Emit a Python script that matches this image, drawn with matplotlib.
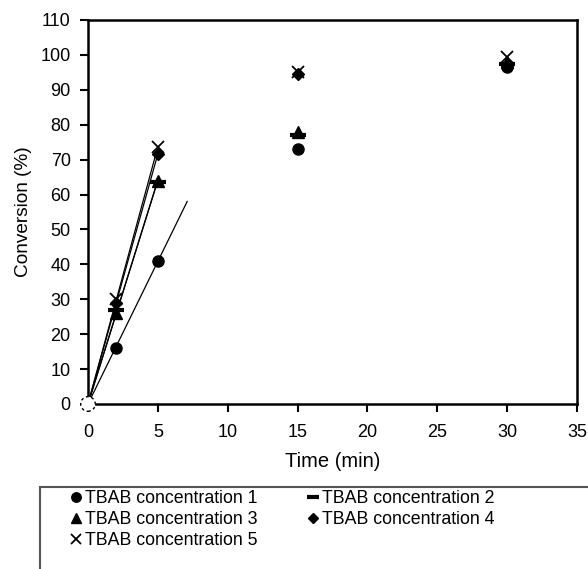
import numpy as np
import matplotlib
matplotlib.use("Agg")
import matplotlib.pyplot as plt
from matplotlib.patches import Rectangle
from matplotlib.lines import Line2D

plt.rcParams['font.family'] = ['Liberation Sans', 'DejaVu Sans']

time = [0, 2, 5, 15, 30]
conc1 = [0, 16, 41, 73, 96.5]
conc2 = [0, 27, 63.5, 77, 97.5]
conc3 = [0, 26, 64, 78, 98]
conc4 = [0, 29, 71.5, 94.5, 97]
conc5 = [0, 30, 73.5, 95, 99.5]
labels = ["TBAB concentration 1", "TBAB concentration 2", "TBAB concentration 3",
          "TBAB concentration 4", "TBAB concentration 5"]
trend_end = [7.1, 5.0, 5.0, 4.9, 4.9]

series = [conc1, conc2, conc3, conc4, conc5]
markers = ['o', '_', '^', 'D', 'x']
msizes = [8, 11, 8, 6.5, 8]

fig = plt.figure(figsize=(5.88, 5.69), dpi=100)
ax = fig.add_axes([88/588, 1-404/569, (577-88)/588, (404-20)/569])

t = np.array(time, dtype=float)
for ys, xe in zip(series, trend_end):
    y = np.array(ys, dtype=float)
    slope = np.sum(t[:3]*y[:3]) / np.sum(t[:3]**2)
    xx = np.array([0, xe])
    ax.plot(xx, slope*xx, color='black', lw=0.9, zorder=2)

handles = []
for ys, m, ms, lab in zip(series, markers, msizes, labels):
    kw = dict(color='black', linestyle='none', marker=m, markersize=ms, zorder=3)
    if m == '_':
        kw['markeredgewidth'] = 3
    elif m == 'x':
        kw['markeredgewidth'] = 1.3
    ax.plot(time[1:], ys[1:], **kw)
    handles.append(Line2D([], [], **{**kw, 'markersize': ms*0.85}))

# origin marker (hollow dashed circle)
ax.scatter([time[0]], [conc1[0]], s=110, facecolor='white', edgecolor='black',
           linewidth=1.0, linestyle=(0, (2, 2)), zorder=4, clip_on=False)

ax.set_xlim(0, 35)
ax.set_ylim(0, 110)
ax.set_xticks(range(0, 36, 5))
ax.set_yticks(range(0, 111, 10))
for s in ax.spines.values():
    s.set_linewidth(1.8)
ax.tick_params(direction='out', length=5.5, width=1.5, labelsize=13, pad=7)
ax.tick_params(axis='x', pad=9)
ax.set_xlabel("Time (min)", fontsize=14.5, labelpad=8)
ax.set_ylabel("Conversion (%)", fontsize=13.7, labelpad=6)

rect = Rectangle((40/588, 1-600/569), 600/588, (600-487)/569, transform=fig.transFigure,
                 facecolor='white', edgecolor='#555555', linewidth=1.5, clip_on=False)
fig.patches.append(rect)
order = [0, 2, 4, 1, 3]
leg = fig.legend([handles[i] for i in order], [labels[i] for i in order], ncol=2,
                 loc='upper left', bbox_to_anchor=(62/588, 1-483/569), frameon=False,
                 fontsize=12.8, handlelength=0.8, handletextpad=0.1, columnspacing=2.7,
                 labelspacing=0.22, borderaxespad=0)

fig.savefig("out.png", dpi=100)
